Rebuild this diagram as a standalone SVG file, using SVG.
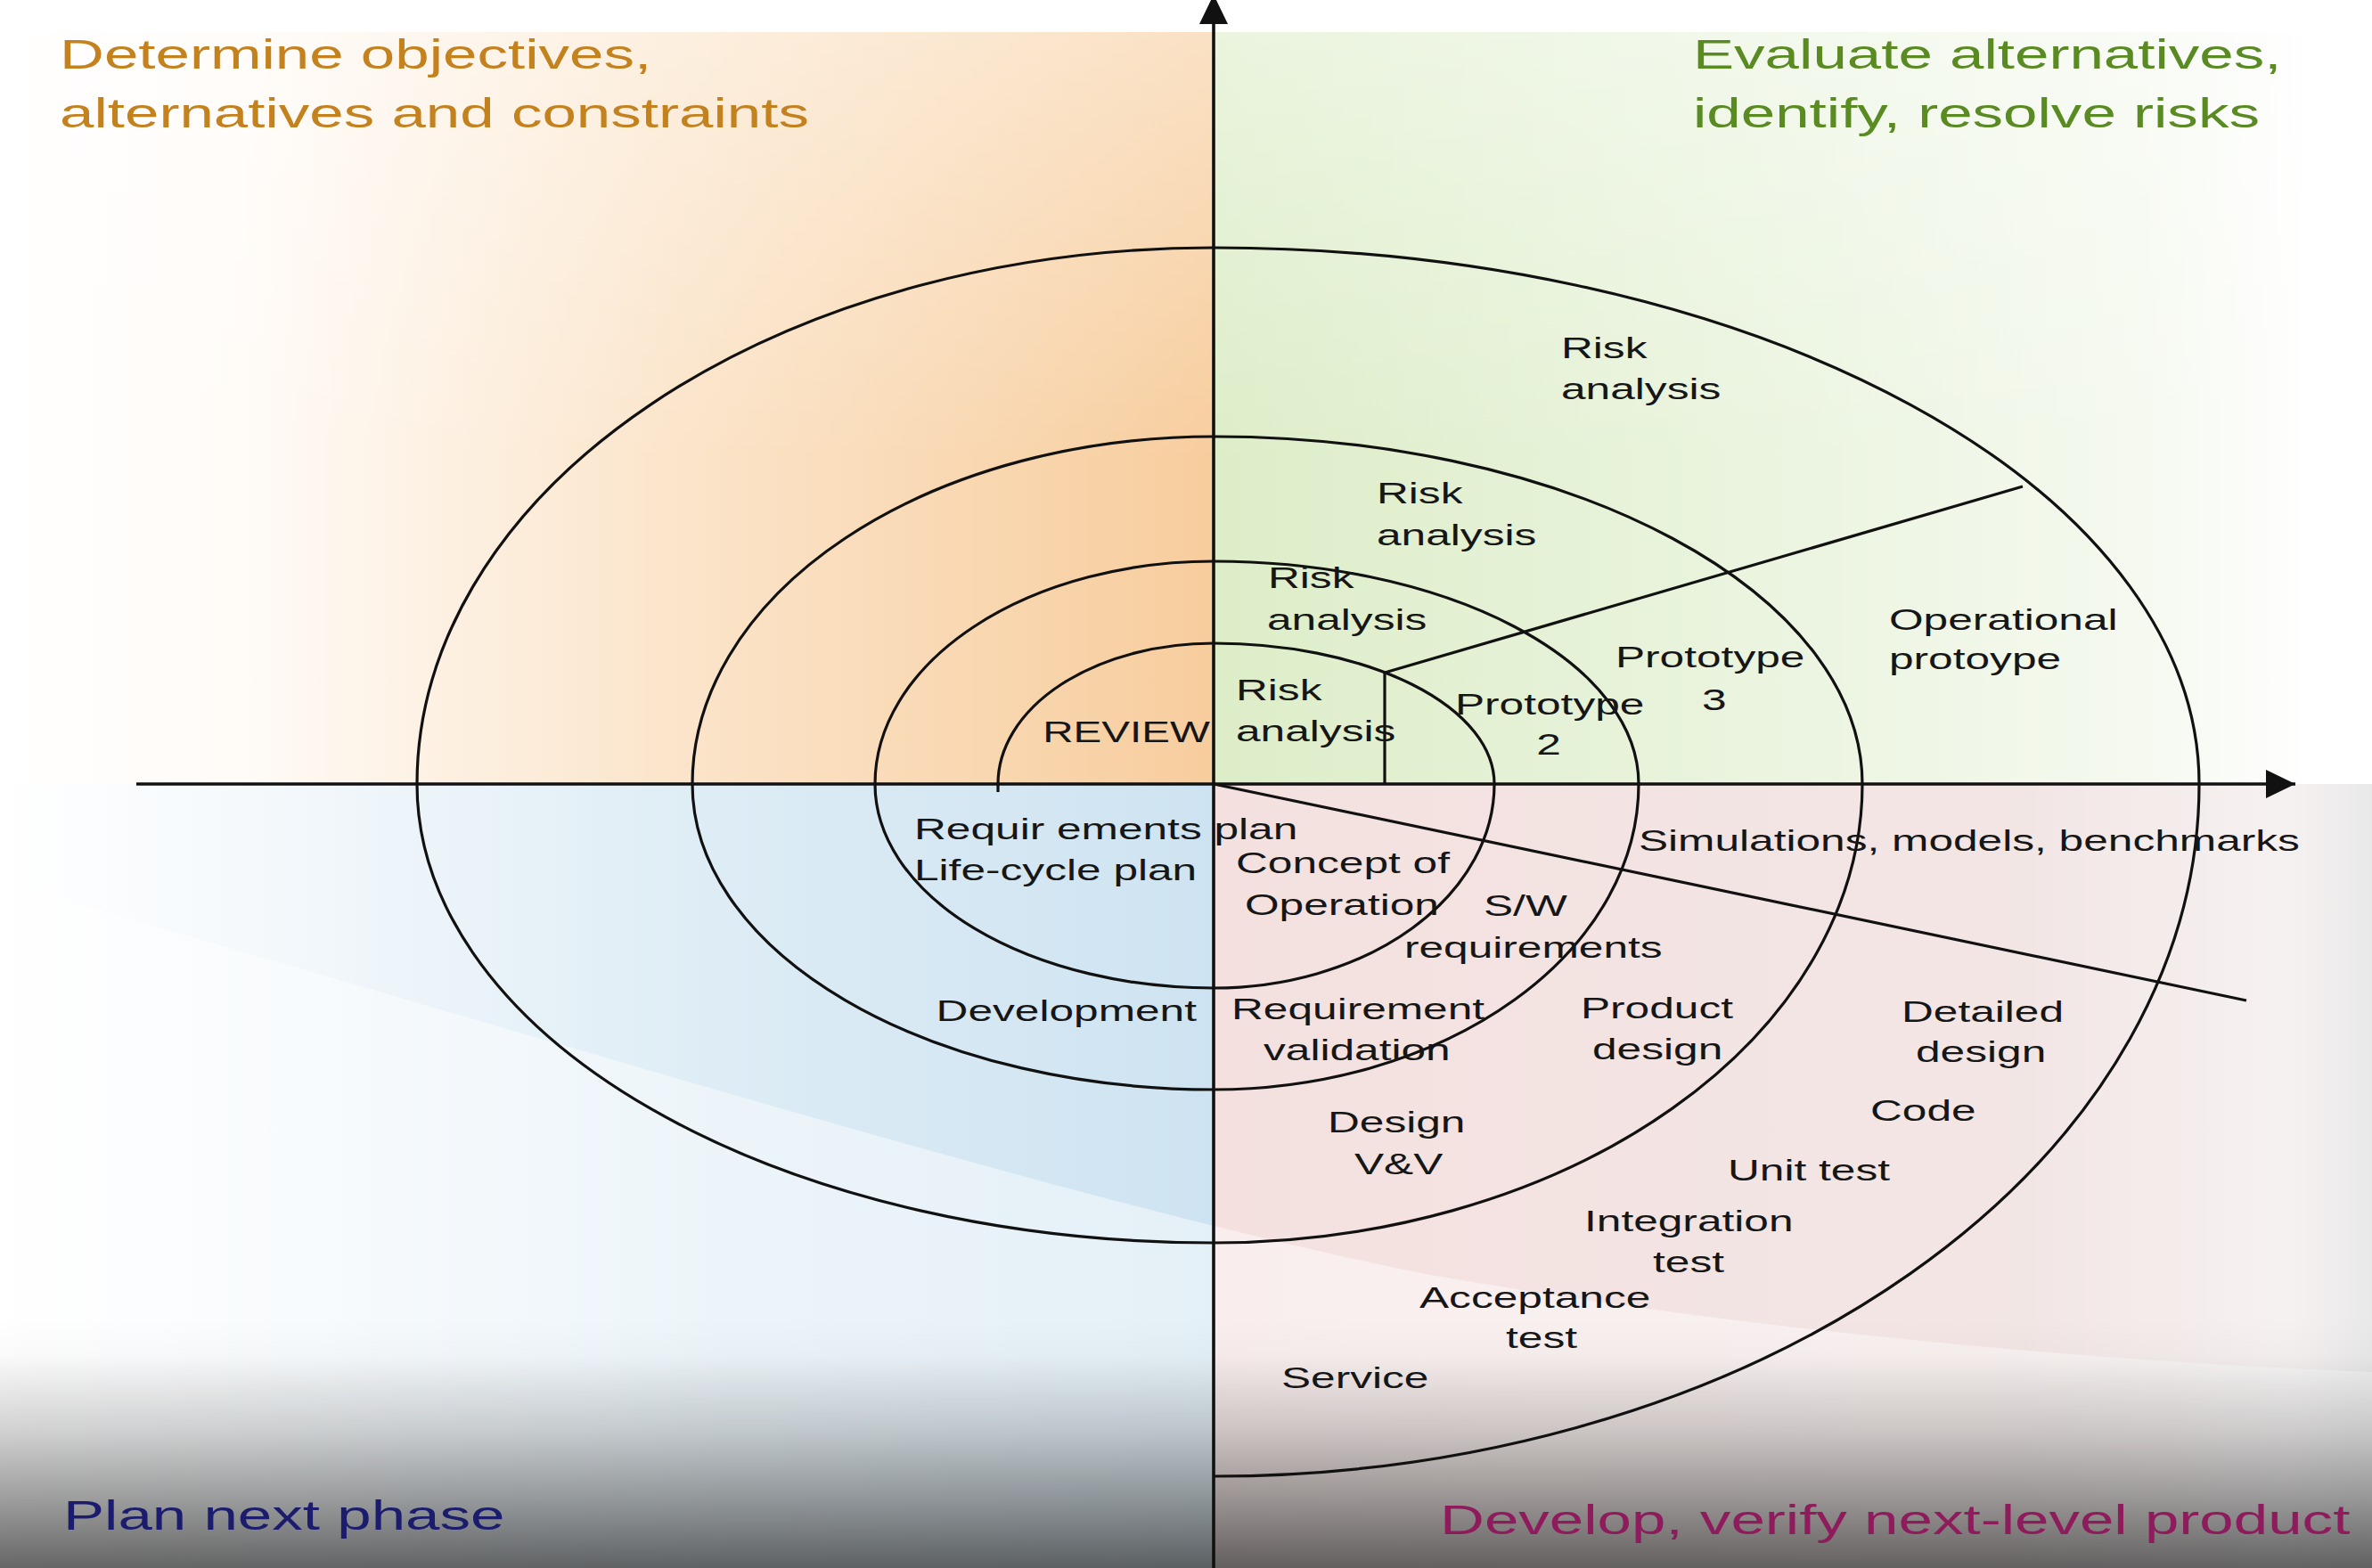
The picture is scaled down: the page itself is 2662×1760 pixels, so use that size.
<svg xmlns="http://www.w3.org/2000/svg" width="2662" height="1760" viewBox="0 0 2662 1760">
<style>
.ln{fill:none;stroke:#111;stroke-width:3.2;stroke-linejoin:round}
.ax{fill:none;stroke:#111;stroke-width:3.6}
.lbl{font-family:"Liberation Sans",Arial,sans-serif;font-size:34px;fill:#161616}
.ttl{font-family:"Liberation Sans",Arial,sans-serif;font-size:47px}
</style>
<defs>
<linearGradient id="gTL" gradientUnits="userSpaceOnUse" x1="0" y1="0" x2="1362" y2="0">
<stop offset="0" stop-color="#ffffff"/>
<stop offset="0.2" stop-color="#fffbf7"/>
<stop offset="0.55" stop-color="#fbe5cb"/>
<stop offset="1" stop-color="#f7cd9d"/>
</linearGradient>
<linearGradient id="gTR" gradientUnits="userSpaceOnUse" x1="1362" y1="0" x2="2662" y2="0">
<stop offset="0" stop-color="#ddedc8"/>
<stop offset="0.45" stop-color="#eaf4de"/>
<stop offset="0.8" stop-color="#f5f9ef"/>
<stop offset="0.95" stop-color="#ffffff"/>
</linearGradient>
<linearGradient id="gBL" gradientUnits="userSpaceOnUse" x1="0" y1="0" x2="1362" y2="0">
<stop offset="0" stop-color="#ffffff"/>
<stop offset="0.2" stop-color="#f5f9fc"/>
<stop offset="0.6" stop-color="#ddecf5"/>
<stop offset="1" stop-color="#cee3f1"/>
</linearGradient>
<linearGradient id="gBR" gradientUnits="userSpaceOnUse" x1="1362" y1="0" x2="2662" y2="0">
<stop offset="0" stop-color="#f4e1df"/>
<stop offset="0.7" stop-color="#f2e6e5"/>
<stop offset="0.93" stop-color="#f6f1f1"/>
<stop offset="1" stop-color="#e9e9e9"/>
</linearGradient>
<linearGradient id="gTop" gradientUnits="userSpaceOnUse" x1="0" y1="36" x2="0" y2="520">
<stop offset="0" stop-color="#ffffff" stop-opacity="0.4"/>
<stop offset="1" stop-color="#ffffff" stop-opacity="0"/>
</linearGradient>
<linearGradient id="gShade" gradientUnits="userSpaceOnUse" x1="0" y1="1480" x2="0" y2="1760">
<stop offset="0" stop-color="#000" stop-opacity="0"/>
<stop offset="0.15" stop-color="#000" stop-opacity="0.02"/>
<stop offset="0.45" stop-color="#000" stop-opacity="0.18"/>
<stop offset="0.72" stop-color="#000" stop-opacity="0.38"/>
<stop offset="1" stop-color="#000" stop-opacity="0.6"/>
</linearGradient>
<marker id="arrow" markerUnits="userSpaceOnUse" markerWidth="34" markerHeight="34" refX="33" refY="16" orient="auto">
<path d="M0,0 L33,16 L0,32 Z" fill="#111"/>
</marker>
</defs>

<g id="background">
<rect x="0" y="0" width="2662" height="1760" fill="#ffffff"/>
<rect x="0" y="36" width="1362" height="844" fill="url(#gTL)"/>
<rect x="1362" y="36" width="1300" height="844" fill="url(#gTR)"/>
<rect x="0" y="880" width="1362" height="880" fill="url(#gBL)"/>
<rect x="1362" y="880" width="1300" height="880" fill="url(#gBR)"/>
<rect x="0" y="36" width="2662" height="484" fill="url(#gTop)"/>
<path d="M0,990 C600,1160 1200,1350 1600,1430 C2000,1500 2400,1530 2662,1540 L2662,1760 L0,1760 Z" fill="#ffffff" fill-opacity="0.45"/>
<rect x="0" y="1480" width="2662" height="280" fill="url(#gShade)"/>
</g>

<g id="connectors">
<line class="ax" x1="153" y1="880" x2="2576" y2="880" marker-end="url(#arrow)"/>
<line class="ax" x1="1362" y1="1760" x2="1362" y2="-6" marker-end="url(#arrow)"/>
<path id="spiral" class="ln" d="M1120,889 L1120,880 A242,158 0 0 1 1362,722 A315,158 0 0 1 1677,880 A315,229 0 0 1 1362,1109 A380,229 0 0 1 982,880 A380,250 0 0 1 1362,630 A477,250 0 0 1 1839,880 A477,343 0 0 1 1362,1223 A585,343 0 0 1 777,880 A585,390 0 0 1 1362,490 A728,390 0 0 1 2090,880 A728,515 0 0 1 1362,1395 A894,515 0 0 1 468,880 A894,602 0 0 1 1362,278 A1106,602 0 0 1 2468,880 A1106,777 0 0 1 1362,1657"/>
<path id="prototype-divider" class="ln" d="M1554,880 L1554,755 L2270,546"/>
<line id="develop-divider" class="ln" x1="1362" y1="880" x2="2521" y2="1123"/>
</g>

<g id="title-objectives" class="ttl" fill="#c4821f">
<text transform="translate(67 77) scale(1.47 1)">Determine objectives,</text>
<text transform="translate(67 143) scale(1.47 1)">alternatives and constraints</text>
</g>
<g id="title-evaluate" class="ttl" fill="#5a8a22">
<text transform="translate(1900 77) scale(1.47 1)">Evaluate alternatives,</text>
<text transform="translate(1900 143) scale(1.47 1)">identify, resolve risks</text>
</g>
<g id="title-plan" class="ttl" fill="#1c1c6e">
<text transform="translate(71 1717) scale(1.47 1)">Plan next phase</text>
</g>
<g id="title-develop" class="ttl" fill="#8e1c5c">
<text transform="translate(1616 1722) scale(1.47 1)">Develop, verify next-level product</text>
</g>

<g id="risk-analysis-4" class="lbl">
<text transform="translate(1752 402) scale(1.46 1)">Risk</text>
<text transform="translate(1752 448) scale(1.46 1)">analysis</text>
</g>
<g id="risk-analysis-3" class="lbl">
<text transform="translate(1545 565) scale(1.46 1)">Risk</text>
<text transform="translate(1545 612) scale(1.46 1)">analysis</text>
</g>
<g id="risk-analysis-2" class="lbl">
<text transform="translate(1423 660) scale(1.46 1)">Risk</text>
<text transform="translate(1422 707) scale(1.46 1)">analysis</text>
</g>
<g id="risk-analysis-1" class="lbl">
<text transform="translate(1387 786) scale(1.46 1)">Risk</text>
<text transform="translate(1387 832) scale(1.46 1)">analysis</text>
</g>
<g id="review" class="lbl">
<text transform="translate(1358 833) scale(1.4 1)" text-anchor="end">REVIEW</text>
</g>
<g id="prototype-2" class="lbl">
<text transform="translate(1633 802) scale(1.46 1)">Prototype</text>
<text transform="translate(1738 847) scale(1.46 1)" text-anchor="middle">2</text>
</g>
<g id="prototype-3" class="lbl">
<text transform="translate(1813 749) scale(1.46 1)">Prototype</text>
<text transform="translate(1910 797) scale(1.46 1)">3</text>
</g>
<g id="operational-prototype" class="lbl">
<text transform="translate(2120 707) scale(1.46 1)">Operational</text>
<text transform="translate(2120 751) scale(1.46 1)">protoype</text>
</g>
<g id="simulations" class="lbl">
<text transform="translate(1839 955) scale(1.46 1)">Simulations, models, benchmarks</text>
</g>
<g id="requirements-plan" class="lbl">
<text transform="translate(1026 942) scale(1.46 1)">Requir ements plan</text>
<text transform="translate(1026 988) scale(1.46 1)">Life-cycle plan</text>
</g>
<g id="concept-of-operation" class="lbl">
<text transform="translate(1387 980) scale(1.46 1)">Concept of</text>
<text transform="translate(1397 1027) scale(1.46 1)">Operation</text>
</g>
<g id="sw-requirements" class="lbl">
<text transform="translate(1665 1028) scale(1.46 1)">S/W</text>
<text transform="translate(1576 1075) scale(1.46 1)">requirements</text>
</g>
<g id="development" class="lbl">
<text transform="translate(1343 1146) scale(1.46 1)" text-anchor="end">Development</text>
</g>
<g id="requirement-validation" class="lbl">
<text transform="translate(1382 1144) scale(1.46 1)">Requirement</text>
<text transform="translate(1418 1190) scale(1.46 1)">validation</text>
</g>
<g id="product-design" class="lbl">
<text transform="translate(1774 1143) scale(1.46 1)">Product</text>
<text transform="translate(1787 1189) scale(1.46 1)">design</text>
</g>
<g id="detailed-design" class="lbl">
<text transform="translate(2134 1147) scale(1.46 1)">Detailed</text>
<text transform="translate(2150 1192) scale(1.46 1)">design</text>
</g>
<g id="design-vv" class="lbl">
<text transform="translate(1490 1271) scale(1.46 1)">Design</text>
<text transform="translate(1520 1318) scale(1.46 1)">V&amp;V</text>
</g>
<g id="code" class="lbl">
<text transform="translate(2099 1258) scale(1.46 1)">Code</text>
</g>
<g id="unit-test" class="lbl">
<text transform="translate(1939 1325) scale(1.46 1)">Unit test</text>
</g>
<g id="integration-test" class="lbl">
<text transform="translate(1778 1382) scale(1.46 1)">Integration</text>
<text transform="translate(1855 1428) scale(1.46 1)">test</text>
</g>
<g id="acceptance-test" class="lbl">
<text transform="translate(1593 1468) scale(1.46 1)">Acceptance</text>
<text transform="translate(1690 1513) scale(1.46 1)">test</text>
</g>
<g id="service" class="lbl">
<text transform="translate(1438 1558) scale(1.46 1)">Service</text>
</g>
</svg>
